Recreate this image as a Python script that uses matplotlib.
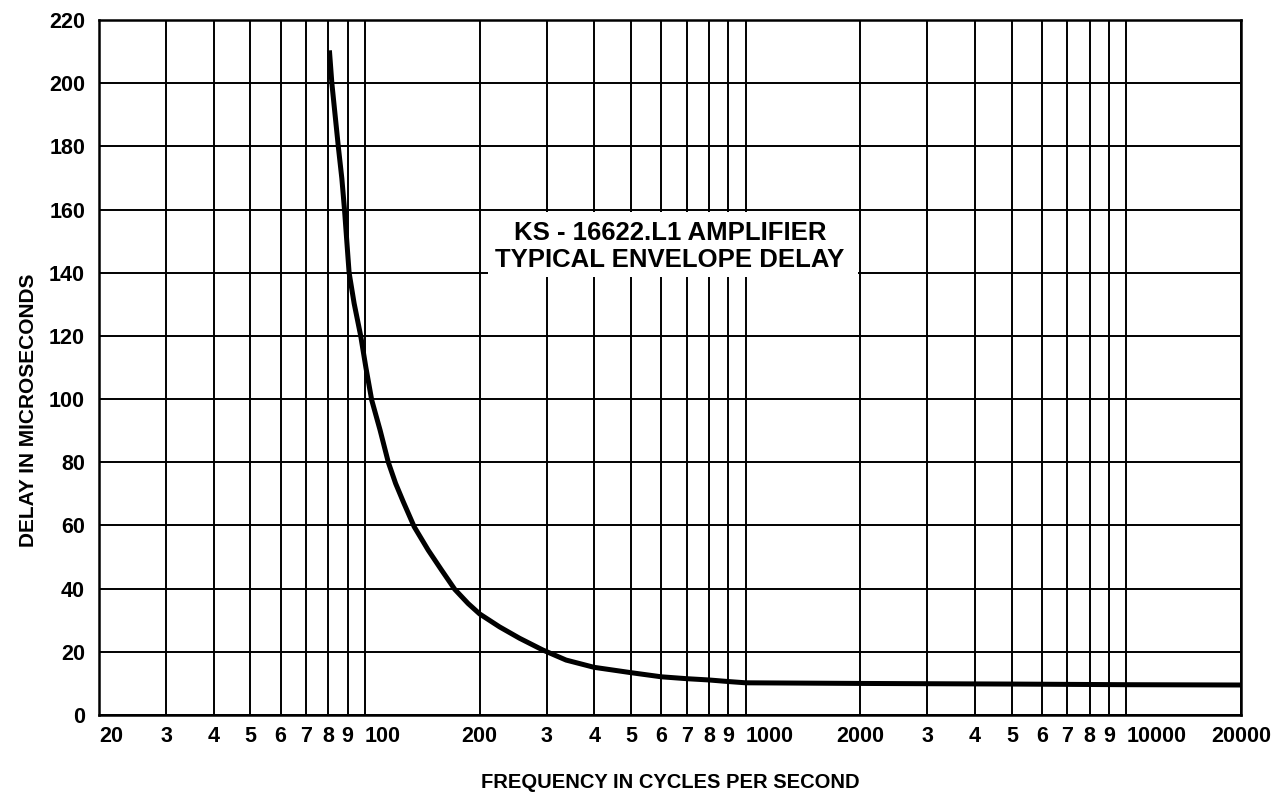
import matplotlib
matplotlib.use('Agg')
import matplotlib.pyplot as plt
from matplotlib.patches import Rectangle

plt.rcParams['font.family'] = ['Liberation Sans', 'DejaVu Sans']

# envelope delay (Hz, microseconds)
freq_hz = [80.6, 81.8, 85.1, 86.9, 88.3, 89.5, 90.8, 93.6, 97.4, 100.5, 104.1, 109.5, 115.1,
           120.3, 126, 134.6, 146.5, 158.8, 172, 186.5, 200, 225.6, 254.6, 292.8, 337.3,
           399.6, 500, 600, 700, 800, 900, 1000, 2000, 5000, 10000, 20000]
delay_us = [210.4, 200, 179.7, 169.8, 160, 150.3, 140, 130.3, 120, 110, 99.7, 90.2, 80,
            73.3, 67.5, 59.6, 52.2, 45.9, 39.8, 35.3, 32, 27.9, 24.3, 20.6, 17.4,
            15.1, 13.4, 12.1, 11.5, 11.1, 10.6, 10.2, 10.0, 9.8, 9.6, 9.5]

# grid / tick positions on the log scale and their printed labels
x_ticks = [20, 30, 40, 50, 60, 70, 80, 90, 100, 200, 300, 400, 500, 600, 700, 800, 900,
           1000, 2000, 3000, 4000, 5000, 6000, 7000, 8000, 9000, 10000, 20000]
x_labels = ['20', '3', '4', '5', '6', '7', '8', '9', '100', '200', '3', '4', '5', '6', '7', '8', '9',
            '1000', '2000', '3', '4', '5', '6', '7', '8', '9', '10000', '20000']
y_ticks = list(range(0, 221, 20))

fig = plt.figure(figsize=(12.74, 7.95), dpi=100)
ax = fig.add_axes([0.0777, 0.1006, 0.8964, 0.8742])

ax.plot(freq_hz, delay_us, color='black', lw=3.6, solid_capstyle='butt',
        solid_joinstyle='round', zorder=4)

ax.set_xscale('log')
ax.set_xlim(20, 20000)
ax.set_ylim(0, 220)
ax.minorticks_off()
ax.set_xticks(x_ticks)
ax.set_xticklabels(x_labels)
ax.set_yticks(y_ticks)
ax.tick_params(length=0, labelsize=15.5)
ax.xaxis.set_tick_params(pad=8)
ax.yaxis.set_tick_params(pad=10)
for lab in ax.get_xticklabels() + ax.get_yticklabels():
    lab.set_fontweight('bold')
# 20, 100, 1000, 10000 are printed starting at their line
for lab in ax.get_xticklabels():
    if lab.get_text() in ('20', '100', '1000', '10000'):
        lab.set_horizontalalignment('left')

ax.grid(True, color='black', lw=1.4)
ax.set_axisbelow(True)
for sp in ax.spines.values():
    sp.set_linewidth(1.8)

# white panel under the title, hides the grid there
ax.add_patch(Rectangle((0.3406, 0.630), 0.324, 0.0937, transform=ax.transAxes,
                       facecolor='white', edgecolor='none', zorder=2))
ax.text(0.5, 0.674, 'KS - 16622.L1 AMPLIFIER\nTYPICAL ENVELOPE DELAY',
        transform=ax.transAxes, ha='center', va='center', fontsize=18.5,
        fontweight='bold', linespacing=1.15, zorder=3)

fig.text(0.526, 0.016, 'FREQUENCY IN CYCLES PER SECOND', ha='center', va='center',
         fontsize=14.5, fontweight='bold')
fig.text(0.022, 0.484, 'DELAY IN MICROSECONDS', ha='center', va='center', rotation=90,
         fontsize=15, fontweight='bold')

fig.savefig('out.png', dpi=100, facecolor='white')
